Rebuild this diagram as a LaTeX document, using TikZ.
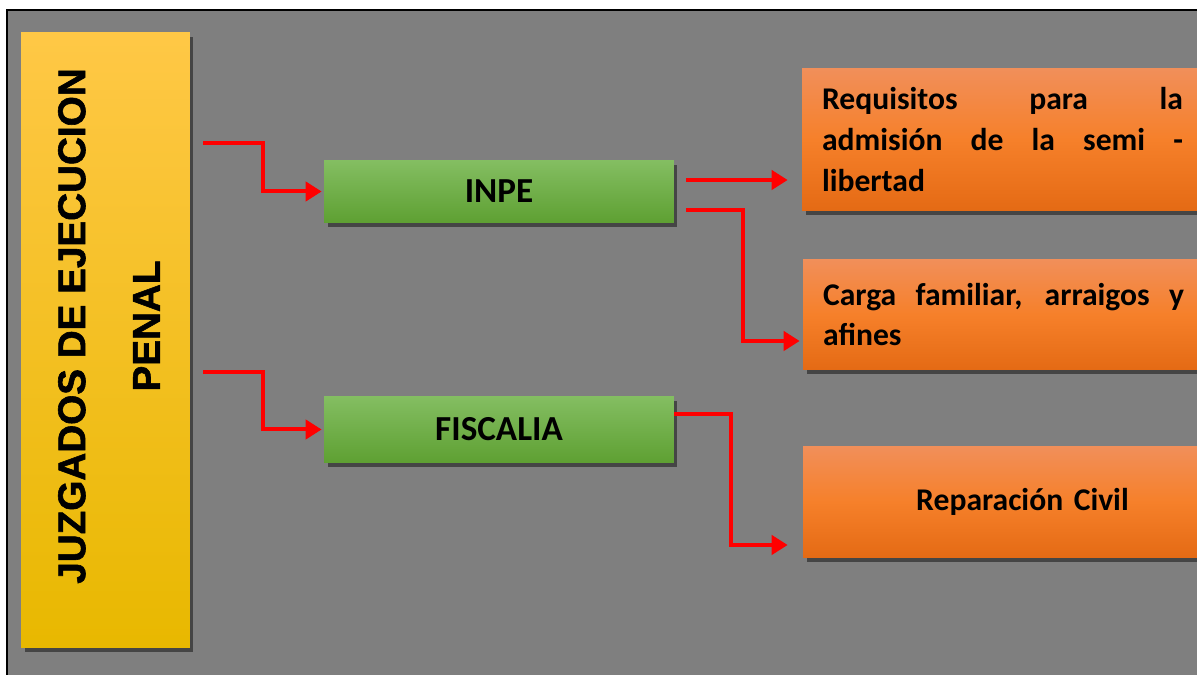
\documentclass[tikz,border=0pt]{standalone}
\usepackage{fontspec}
\setmainfont{Carlito}
\newfontfamily\titlefont[BoldFeatures={FakeBold=1.5}]{Liberation Sans}
\usetikzlibrary{arrows.meta,shadows}
\definecolor{fondo}{RGB}{127,127,127}
\definecolor{amarilloA}{RGB}{255,200,70}
\definecolor{amarilloB}{RGB}{232,184,0}
\definecolor{verdeA}{RGB}{132,190,98}
\definecolor{verdeB}{RGB}{94,160,50}
\definecolor{naranjaA}{RGB}{241,143,90}
\definecolor{naranjaM}{RGB}{246,128,42}
\definecolor{naranjaB}{RGB}{228,106,20}
\begin{document}
\begin{tikzpicture}[x=0.02cm, y=-0.02cm,
    sombra/.style={drop shadow={shadow xshift=0.07cm, shadow yshift=-0.09cm, opacity=0.45, fill=black}},
    caja/.style={rectangle, inner sep=0pt, sombra},
    verde/.style={caja, top color=verdeA, bottom color=verdeB, minimum width=7cm, font=\fontsize{20}{24}\selectfont\bfseries},
    naranja/.style={caja, top color=naranjaA, bottom color=naranjaB, middle color=naranjaM, inner xsep=0.4cm, text width=7.22cm, align=justify, font=\fontsize{18}{23.2}\selectfont\bfseries},
    flecha/.style={red, line width=0.08cm, -{Triangle[length=0.32cm, width=0.38cm]}}]
  \useasboundingbox (0,0) rectangle (1197,675);
  \clip (0,0) rectangle (1197,675);
  \fill[white] (0,0) rectangle (1197,675);
  \filldraw[fill=fondo, draw=black, line width=0.03cm] (7,10) rectangle (1220,700);

  % caja lateral
  \node[caja, top color=amarilloA, bottom color=amarilloB, minimum width=3.38cm, minimum height=12.32cm] (juzgado) at (105.5,340) {};
  \node[rotate=90, align=center, font=\titlefont\fontsize{22}{42.5}\selectfont\bfseries] (juzgtxt) at (109,326) {JUZGADOS DE EJECUCION\\PENAL};

  \node[verde, minimum height=1.26cm] (inpe) at (499,191.5) {INPE};
  \node[verde, minimum height=1.34cm] (fisc) at (499,429.5) {FISCALIA};

  \node[naranja, minimum height=2.86cm] (req) at (1002.5,139.5) {Requisitos para la\linebreak admisión de la semi -\linebreak libertad};
  \node[naranja, minimum height=2.22cm] (carga) at (1003.5,314.5) {Carga familiar, arraigos y\linebreak afines};
  \node[naranja, minimum height=2.24cm, text width=7.98cm, align=center] (rep) at (1022.5,502) {Reparación Civil};

  \coordinate (j1) at (203,143);
  \coordinate (j2) at (203,372);
  \coordinate (i1) at (686,180);
  \coordinate (i2) at (686,210);

  \draw[flecha] (j1) -- ++(60,0) |- ([xshift=-0.04cm]inpe.west);
  \draw[flecha] (j2) -- ++(60,0) |- ([xshift=-0.04cm]fisc.west);
  \draw[flecha, shorten >=0.28cm] (i1) -- (i1 -| req.west);
  \draw[flecha, shorten >=0.06cm] (i2) -- ++(57,0) |- ([yshift=-0.53cm]carga.west);
  \draw[flecha, shorten >=0.3cm] ([yshift=0.31cm]fisc.east) -- ++(57,0) |- ([yshift=-0.86cm]rep.west);
\end{tikzpicture}
\end{document}
